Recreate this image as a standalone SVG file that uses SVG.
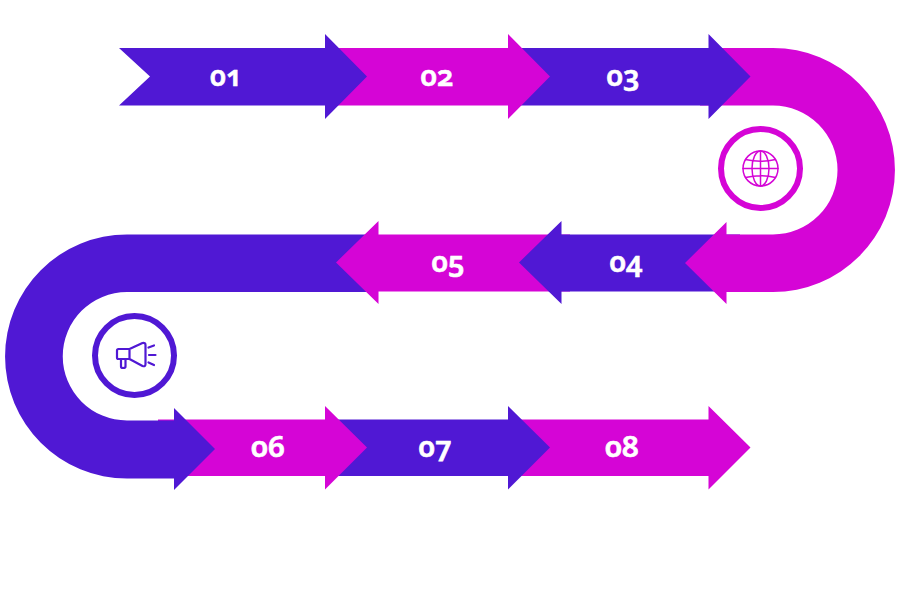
<svg xmlns="http://www.w3.org/2000/svg" width="900" height="600" viewBox="0 0 900 600">
<style>
.p{fill:#5018d4}
.m{fill:#d505d6}
.t{font-family:"Noto Sans","Liberation Sans",sans-serif;font-weight:600;font-size:28px;fill:#fff;text-anchor:middle;font-feature-settings:"onum";font-variant-numeric:oldstyle-nums;stroke:#fff;stroke-width:.6px}
.il{fill:none;stroke-width:2.200;stroke-linecap:round;stroke-linejoin:round}
</style>
<rect width="900" height="600" fill="#fff"/>
<g id="connectors">
<path id="arrow-08" class="m" d="M510 419.500H708.500V406L750.500 447.500L708.500 489.500V476H510Z"/>
<path id="arrow-07" class="p" d="M330 419.500H508V406L550 447.500L508 489.500V476H330Z"/>
<path id="arrow-06" class="m" d="M158 419.500H325V406L367 447.500L325 489.500V476H158Z"/>
<path id="curve-purple" class="p" d="M370 234.500H127A122 122 0 0 0 127 478.500H174V490L215 449L174 408V420.500H127A64.250 64.250 0 0 1 127 292H370Z"/>
<path id="arrow-05" class="m" d="M570 234.500H378.500V221L336 262.500L378.500 304V291.500H570Z"/>
<path id="arrow-04" class="p" d="M740 234.500H561.500V221L519 262.500L561.500 304V291.500H740Z"/>
<path id="curve-magenta" class="m" d="M700 48H773A122 122 0 0 1 773 292H726.500V304L685 263L726.500 222V234.500H773A64.500 64.500 0 0 0 773 105.500H700Z"/>
<path id="arrow-03" class="p" d="M520 48H708.500V34L750.500 76.500L708.500 119V105.500H520Z"/>
<path id="arrow-02" class="m" d="M335 48H508V34L550 76.500L508 119V105.500H335Z"/>
<path id="arrow-01" class="p" d="M119 48H325V34L367 76.500L325 119V105.500H119L150 76.500Z"/>
</g>
<g id="node-01"><text class="t" x="226" y="86" textLength="32" lengthAdjust="spacingAndGlyphs">01</text></g>
<g id="node-02"><text class="t" x="437" y="86" textLength="33" lengthAdjust="spacingAndGlyphs">02</text></g>
<g id="node-03"><text class="t" x="623" y="86" textLength="33" lengthAdjust="spacingAndGlyphs">03</text></g>
<g id="node-04"><text class="t" x="626" y="272" textLength="33" lengthAdjust="spacingAndGlyphs">04</text></g>
<g id="node-05"><text class="t" x="448" y="272" textLength="33" lengthAdjust="spacingAndGlyphs">05</text></g>
<g id="node-06"><text class="t" x="268" y="457" textLength="34" lengthAdjust="spacingAndGlyphs">06</text></g>
<g id="node-07"><text class="t" x="435" y="457" textLength="33" lengthAdjust="spacingAndGlyphs">07</text></g>
<g id="node-08"><text class="t" x="622" y="457" textLength="34" lengthAdjust="spacingAndGlyphs">08</text></g>
<g id="node-globe">
<circle cx="760.500" cy="168.500" r="39.500" fill="#fff" stroke="#d505d6" stroke-width="6"/>
<g class="il" stroke="#d505d6" style="stroke-width:1.500">
<circle cx="760.500" cy="168.500" r="17.500"/>
<ellipse cx="760.500" cy="168.500" rx="8.500" ry="17.500"/>
<path d="M760.500 151V186M743 168.500H778M745.500 159.500Q760.500 163 775.500 159.500M745.500 177.500Q760.500 174 775.500 177.500"/>
</g>
</g>
<g id="node-megaphone">
<circle cx="134.500" cy="355.500" r="39.500" fill="#fff" stroke="#5018d4" stroke-width="6"/>
<g class="il" stroke="#5018d4">
<path d="M129.500 349H118.500Q117 349 117 350.500V357.500Q117 359 118.500 359H129.500ZM129.500 349L142.500 343Q145.500 342.500 145.500 345V364Q145.500 367 142.500 366L129.500 359M121 359V366.500Q121 368 123 368Q125.500 368 125.500 366.500V359M148.500 347.500L154 345.500M149 355H155.500M148.500 362.500L154 365"/>
</g>
</g>
</svg>
